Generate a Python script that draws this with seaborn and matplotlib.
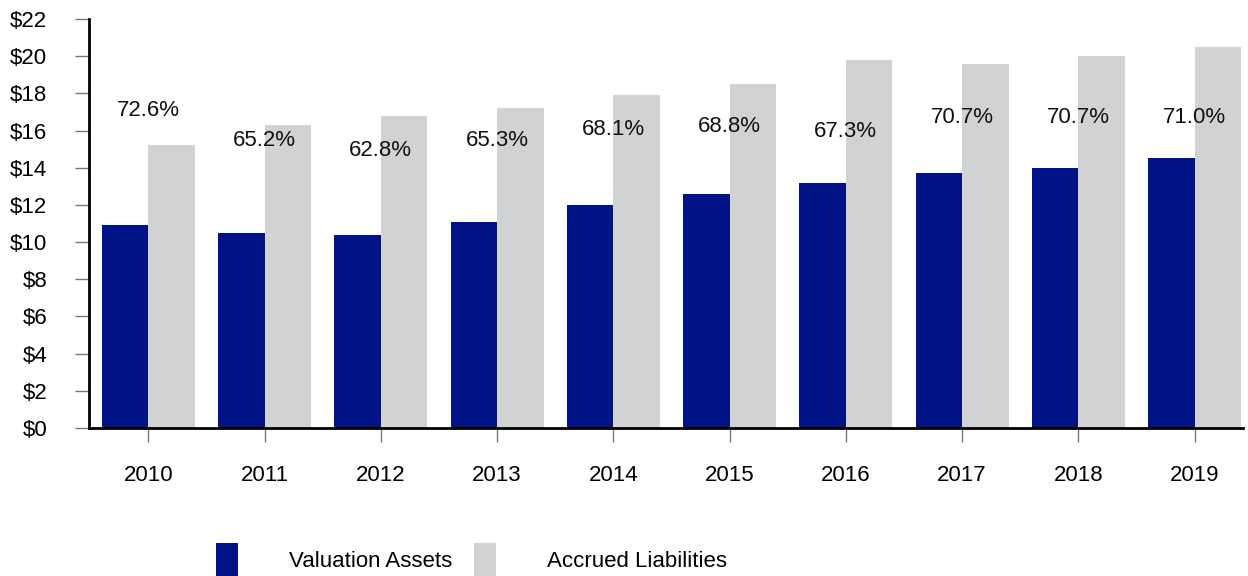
import pandas as pd
import numpy as np
import matplotlib
matplotlib.use('Agg')
import matplotlib.pyplot as plt
import seaborn as sns

# chart data (billions)
years = ['2010', '2011', '2012', '2013', '2014', '2015', '2016', '2017', '2018', '2019']
valuation_assets = [10.9, 10.5, 10.4, 11.1, 12.0, 12.6, 13.2, 13.7, 14.0, 14.5]
accrued_liabilities = [15.2, 16.3, 16.8, 17.2, 17.9, 18.5, 19.8, 19.6, 20.0, 20.5]
funded_ratio = ['72.6%', '65.2%', '62.8%', '65.3%', '68.1%', '68.8%', '67.3%', '70.7%', '70.7%', '71.0%']
y_ticks = [0, 2, 4, 6, 8, 10, 12, 14, 16, 18, 20, 22]

def main():
    sns.set_style('white')
    plt.rcParams['font.family'] = ['Liberation Sans Narrow', 'Liberation Sans', 'DejaVu Sans']
    plt.rcParams['text.color'] = 'black'

    df = pd.DataFrame({
        'year': years * 2,
        'value': valuation_assets + accrued_liabilities,
        'series': ['Valuation Assets'] * len(years) + ['Accrued Liabilities'] * len(years),
    })

    fig = plt.figure(figsize=(12.48, 5.76), dpi=100)
    ax = fig.add_axes([0.0713, 0.257, 0.925, 0.710])
    sns.barplot(data=df, x='year', y='value', hue='series',
                palette=['#001487', '#d1d2d4'], width=0.8, saturation=1,
                linewidth=0, ax=ax, legend=True)

    # funded ratio labels, heights as placed in the original
    label_y = [17.1, 15.45, 14.95, 15.45, 16.05, 16.2, 15.95, 16.7, 16.7, 16.7]
    for i, txt in enumerate(funded_ratio):
        ax.text(i, label_y[i], txt, ha='center', va='center', fontsize=16, color='#111111')

    ax.set_ylim(0, 22)
    ax.set_xlim(-0.51, 9.42)
    ax.set_yticks(y_ticks)
    ax.set_yticklabels([f'${v}' for v in y_ticks])
    ax.set_xlabel('')
    ax.set_ylabel('')
    for s in ['top', 'right']:
        ax.spines[s].set_visible(False)
    for s in ['left', 'bottom']:
        ax.spines[s].set_color('black')
        ax.spines[s].set_linewidth(2)
    ax.tick_params(axis='y', which='major', direction='out', length=10, width=1,
                   color='#777777', labelcolor='black', labelsize=16, pad=20, left=True)
    ax.tick_params(axis='x', which='major', direction='out', length=10, width=1,
                   color='#777777', labelcolor='black', labelsize=16, pad=17, bottom=True)

    leg = ax.legend(loc='lower left', bbox_to_anchor=(0.157, -0.035), bbox_transform=fig.transFigure,
                    ncol=2, frameon=False, fontsize=16, handlelength=1.0, handleheight=1.9,
                    handletextpad=2.3, columnspacing=0.95)

    fig.savefig('out.png', dpi=100)
    plt.close(fig)

if __name__ == '__main__':
    main()
